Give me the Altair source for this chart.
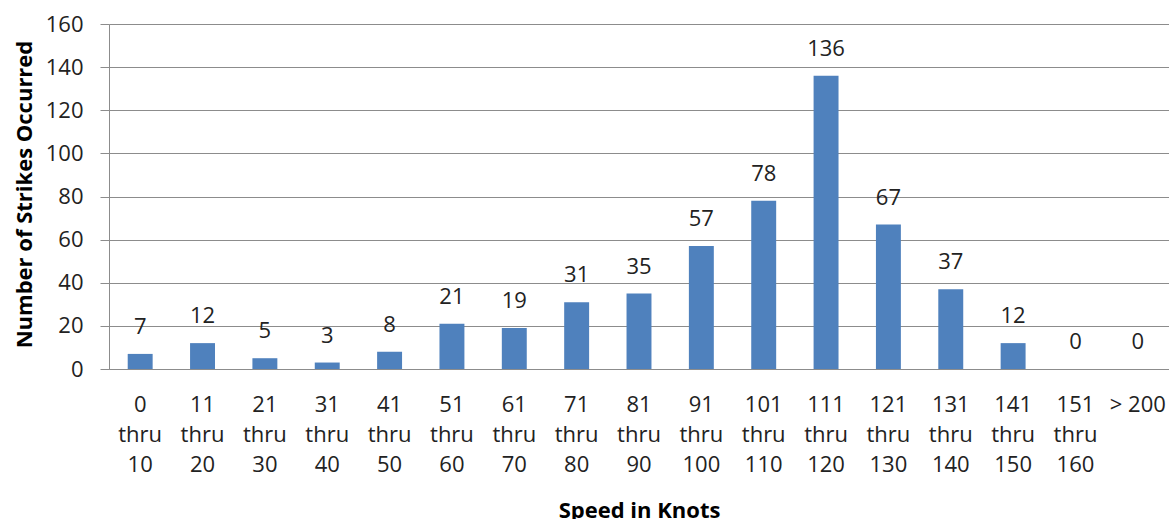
import altair as alt
import pandas as pd

# Speed bins (multi-line labels split on "\n") and strike counts
speed_bins = [
    "0\nthru\n10", "11\nthru\n20", "21\nthru\n30", "31\nthru\n40", "41\nthru\n50",
    "51\nthru\n60", "61\nthru\n70", "71\nthru\n80", "81\nthru\n90", "91\nthru\n100",
    "101\nthru\n110", "111\nthru\n120", "121\nthru\n130", "131\nthru\n140",
    "141\nthru\n150", "151\nthru\n160", "> 200",
]
strikes = [7, 12, 5, 3, 8, 21, 19, 31, 35, 57, 78, 136, 67, 37, 12, 0, 0]

df = pd.DataFrame({"bin": speed_bins, "strikes": strikes})

FONT = "Open Sans"
BAR_COLOR = "#4F81BD"
GRID = "#8C8C8C"
TEXT = "#222222"

x_enc = alt.X(
    "bin:N",
    sort=speed_bins,
    scale=alt.Scale(paddingInner=0.6, paddingOuter=0.3),
    axis=alt.Axis(
        title="Speed in Knots",
        titleFont=FONT,
        titleFontSize=22,
        titleFontWeight="bold",
        titleColor="#000000",
        titleY=148,
        titleBaseline="alphabetic",
        labelExpr="split(datum.label, '\\n')",
        labelFont=FONT,
        labelFontSize=22,
        labelColor=TEXT,
        labelLineHeight=30,
        labelBaseline="top",
        labelPadding=25,
        labelAngle=0,
        ticks=False,
        domainColor=GRID,
        grid=False,
    ),
)

y_enc = alt.Y(
    "strikes:Q",
    scale=alt.Scale(domain=[0, 160]),
    axis=alt.Axis(
        title="Number of Strikes Occurred",
        titleFont=FONT,
        titleFontSize=22,
        titleFontWeight="bold",
        titleColor="#000000",
        titleX=-78,
        titleY=170,
        titleBaseline="alphabetic",
        values=list(range(0, 161, 20)),
        labelFont=FONT,
        labelFontSize=22,
        labelColor=TEXT,
        labelPadding=17,
        tickSize=9,
        tickColor=GRID,
        domainColor=GRID,
        gridColor=GRID,
        grid=True,
    ),
)

bars = alt.Chart(df).mark_bar(color=BAR_COLOR).encode(x=x_enc, y=y_enc)

labels = alt.Chart(df).mark_text(
    font=FONT, fontSize=22, color=TEXT, baseline="middle", dy=-27
).encode(x=alt.X("bin:N", sort=speed_bins), y="strikes:Q", text="strikes:Q")

chart = (
    alt.layer(bars, labels)
    .properties(
        width=1060,
        height=345,
        autosize=alt.AutoSizeParams(type="none"),
        padding={"left": 109, "top": 24, "right": 0, "bottom": 150},
    )
    .configure_view(stroke=None)
    .configure(background="white")
)

chart.save("out.html", embed_options={"renderer": "svg", "actions": False})
